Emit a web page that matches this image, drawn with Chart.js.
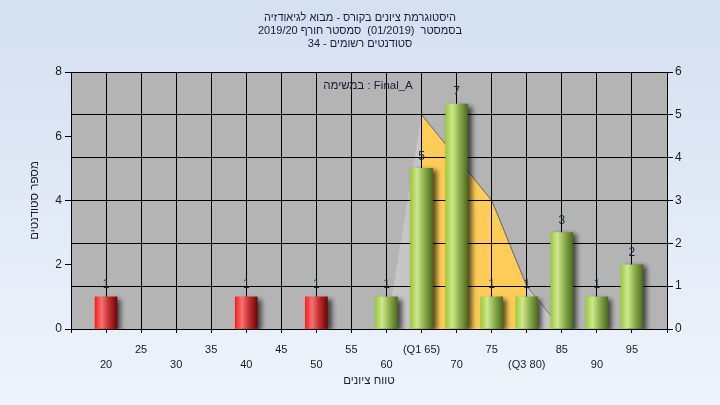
<!DOCTYPE html>
<html>
<head>
<meta charset="utf-8">
<script src="https://cdn.jsdelivr.net/npm/chart.js@4.4.0/dist/chart.umd.min.js"></script>
<style>
  html, body { margin: 0; padding: 0; }
  body { width: 720px; height: 405px; overflow: hidden; }
</style>
</head>
<body>
<canvas id="histChart" width="720" height="405"></canvas>
<script>
// values
var titleLines = ["היסטוגרמת ציונים בקורס - מבוא לגיאודזיה", "בסמסטר  (01/2019)  סמסטר חורף 2019/20", "סטודנטים רשומים - 34"];
var grades = [20, 40, 50, 60, 65, 70, 75, 80, 85, 90, 95];
var counts = [1, 1, 1, 1, 5, 7, 1, 1, 3, 1, 2];
var passGrade = 60;
var curveX = [60, 65, 70, 75, 80, 85];
var curveY = [0, 5, 4, 3, 1, 0];
var q1 = 65, q3 = 80;
var xMin = 15, xMax = 100;
var assignment = "Final_A";
var xTitle = "טווח ציונים";
var yTitle = "מספר סטודנטים";

var FONT = "'Liberation Sans', Arial, sans-serif";

var barData = grades.map(function(g, i) { return {x: g, y: counts[i]}; });
var curveData = curveX.map(function(g, i) { return {x: g, y: curveY[i]}; });
var iqrData = curveData.filter(function(p) { return p.x >= q1 && p.x <= q3; });

function barFill(c) {
  var chart = c.chart;
  if (!chart.chartArea || !c.raw) return "#9ccc3c";
  var x = chart.scales.x.getPixelForValue(c.raw.x);
  var g = chart.ctx.createLinearGradient(x - 11, 0, x + 11, 0);
  if (c.raw.x < passGrade) {
    g.addColorStop(0, "#ff1c1c");
    g.addColorStop(0.3, "#f47474");
    g.addColorStop(0.65, "#c02a2a");
    g.addColorStop(1, "#6a0808");
  } else {
    g.addColorStop(0, "#9ccb3a");
    g.addColorStop(0.3, "#cfe78e");
    g.addColorStop(0.65, "#88ab48");
    g.addColorStop(1, "#4c6a20");
  }
  return g;
}

var bgPlugin = {
  id: "bg",
  beforeDraw: function(chart) {
    var ctx = chart.ctx, a = chart.chartArea;
    var g = ctx.createLinearGradient(0, 0, 0, chart.height);
    g.addColorStop(0, "#d4dff0");
    g.addColorStop(1, "#eef4fc");
    ctx.save();
    ctx.fillStyle = g;
    ctx.fillRect(0, 0, chart.width, chart.height);
    ctx.fillStyle = "#b4b4b4";
    ctx.fillRect(a.left, a.top, a.right - a.left, a.bottom - a.top);
    ctx.restore();
  }
};

// grid sits above the filled area but under the bars, so redraw it before the bars
var barLook = {
  id: "barLook",
  beforeDatasetDraw: function(chart, args) {
    if (args.meta.type !== "bar") return;
    chart.scales.x.drawGrid(chart.chartArea);
    chart.scales.y1.drawGrid(chart.chartArea);
    var ctx = chart.ctx;
    ctx.save();
    ctx.shadowColor = "rgba(0,0,0,0.65)";
    ctx.shadowBlur = 5;
    ctx.shadowOffsetX = 4;
    ctx.shadowOffsetY = 2;
  },
  afterDatasetDraw: function(chart, args) {
    if (args.meta.type !== "bar") return;
    chart.ctx.restore();
  },
  afterDatasetsDraw: function(chart) {
    var ctx = chart.ctx;
    ctx.save();
    ctx.font = "12px " + FONT;
    ctx.fillStyle = "#1c2442";
    ctx.textAlign = "center";
    ctx.textBaseline = "middle";
    chart.data.datasets.forEach(function(ds, i) {
      var meta = chart.getDatasetMeta(i);
      if (meta.type !== "bar") return;
      meta.data.forEach(function(el, j) {
        ctx.fillText(String(ds.data[j].y), el.x, el.y - 12);
      });
    });
    ctx.font = "11.5px " + FONT;
    ctx.fillStyle = "#1a1a3a";
    ctx.fillText("במשימה : " + assignment, 368, 86);
    ctx.restore();
  }
};

var ctx = document.getElementById("histChart").getContext("2d");
var chart = new Chart(ctx, {
  type: "bar",
  data: {
    datasets: [{
      type: "bar",
      data: barData,
      yAxisID: "y",
      backgroundColor: barFill,
      borderWidth: 0,
      barThickness: 22,
      order: 1
    }, {
      type: "line",
      data: curveData,
      yAxisID: "y1",
      fill: "origin",
      backgroundColor: "#c6c6c6",
      borderColor: "#7c7c7c",
      borderWidth: 1,
      segment: {
        borderColor: function(s) { return s.p0.parsed.x < q1 ? "rgba(0,0,0,0)" : "#7c7c7c"; }
      },
      pointRadius: 0,
      tension: 0,
      order: 3
    }, {
      type: "line",
      data: iqrData,
      yAxisID: "y1",
      fill: "origin",
      backgroundColor: "#ffcc58",
      borderColor: "#6e6e6e",
      borderWidth: 1,
      pointRadius: 0,
      tension: 0,
      order: 2
    }]
  },
  options: {
    responsive: false,
    animation: false,
    devicePixelRatio: 1,
    layout: { padding: 0 },
    plugins: {
      legend: { display: false },
      tooltip: { enabled: false },
      title: {
        display: true,
        text: titleLines,
        color: "#1a1a3a",
        font: { family: FONT, size: 11, weight: "normal", lineHeight: "13px" },
        padding: { top: 11, bottom: 22 }
      }
    },
    scales: {
      x: {
        type: "linear",
        min: xMin,
        max: xMax,
        offset: false,
        grid: { color: "#000", lineWidth: 1, tickLength: 4, offset: false },
        border: { color: "#000" },
        ticks: {
          stepSize: 5,
          autoSkip: false,
          maxRotation: 0,
          minRotation: 0,
          padding: 9,
          color: "#1a1a1a",
          font: { family: FONT, size: 11, lineHeight: "15px" },
          callback: function(v) {
            if (v <= xMin || v >= xMax) return "";
            var t = v === q1 ? "(Q1 65)" : v === q3 ? "(Q3 80)" : String(v);
            return v % 10 === 5 ? [t, ""] : ["", t];
          }
        },
        title: {
          display: true,
          text: xTitle,
          color: "#1a1a3a",
          font: { family: FONT, size: 11.5 },
          padding: { top: 0, bottom: 17 }
        },
        afterFit: function(s) { s.height = 76; }
      },
      y: {
        position: "left",
        min: 0,
        max: 8,
        grid: { drawOnChartArea: false, color: "#000", tickLength: 6 },
        border: { color: "#000" },
        ticks: {
          stepSize: 2,
          padding: 3,
          color: "#1a1a1a",
          font: { family: FONT, size: 12 }
        },
        title: {
          display: true,
          text: yTitle,
          color: "#1a1a3a",
          font: { family: FONT, size: 11.5 },
          padding: { top: 28, bottom: 0 }
        },
        afterFit: function(s) { s.width = 71; }
      },
      y1: {
        position: "right",
        min: 0,
        max: 6,
        grid: { drawOnChartArea: true, color: "#000", tickLength: 6 },
        border: { color: "#000" },
        ticks: {
          stepSize: 1,
          padding: 2,
          color: "#1a1a1a",
          font: { family: FONT, size: 12 }
        },
        afterFit: function(s) { s.width = 53; }
      }
    }
  },
  plugins: [bgPlugin, barLook]
});
</script>
</body>
</html>
